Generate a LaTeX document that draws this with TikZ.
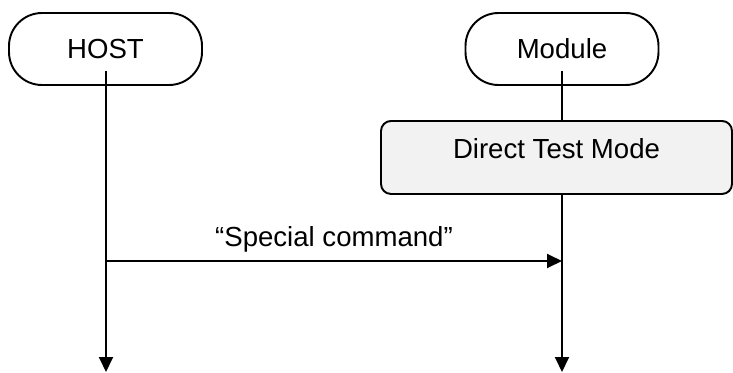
\documentclass[tikz,border=0pt]{standalone}
\usepackage{fontspec}
\setmainfont{Liberation Sans}
\usetikzlibrary{arrows.meta, calc}

\begin{document}
\begin{tikzpicture}[>={Triangle[length=3mm, width=2.8mm]}, line width=1.1pt,
    every node/.style={font=\fontsize{15.7}{19}\selectfont},
    actor/.style={draw, rounded corners=0.66cm, minimum width=3.86cm, minimum height=1.44cm}]
  \useasboundingbox (0,0) rectangle (14.66,7.44);
  \node[actor] (HOST) at (2.11,6.46) {HOST};
  \node[actor] (Module) at (11.24,6.46) {Module};
  \coordinate (hostEnd) at (2.12,0);
  \coordinate (moduleEnd) at (11.24,0);
  \draw[->] ($(HOST.center)+(0.01,-0.44)$) -- (hostEnd);
  \draw[->] ($(Module.center)+(0,-0.44)$) -- (moduleEnd);
  \node[draw, rounded corners=0.2cm, fill=black!5, anchor=north, inner sep=0pt, minimum width=7.02cm, text height=0.76cm, text depth=0.70cm] (DTM) at (11.13,5.04) {Direct Test Mode};
  \draw[->] (hostEnd |- 0,2.22) -- (moduleEnd |- 0,2.22) node[midway, above=1pt] {“Special command”};
\end{tikzpicture}
\end{document}
